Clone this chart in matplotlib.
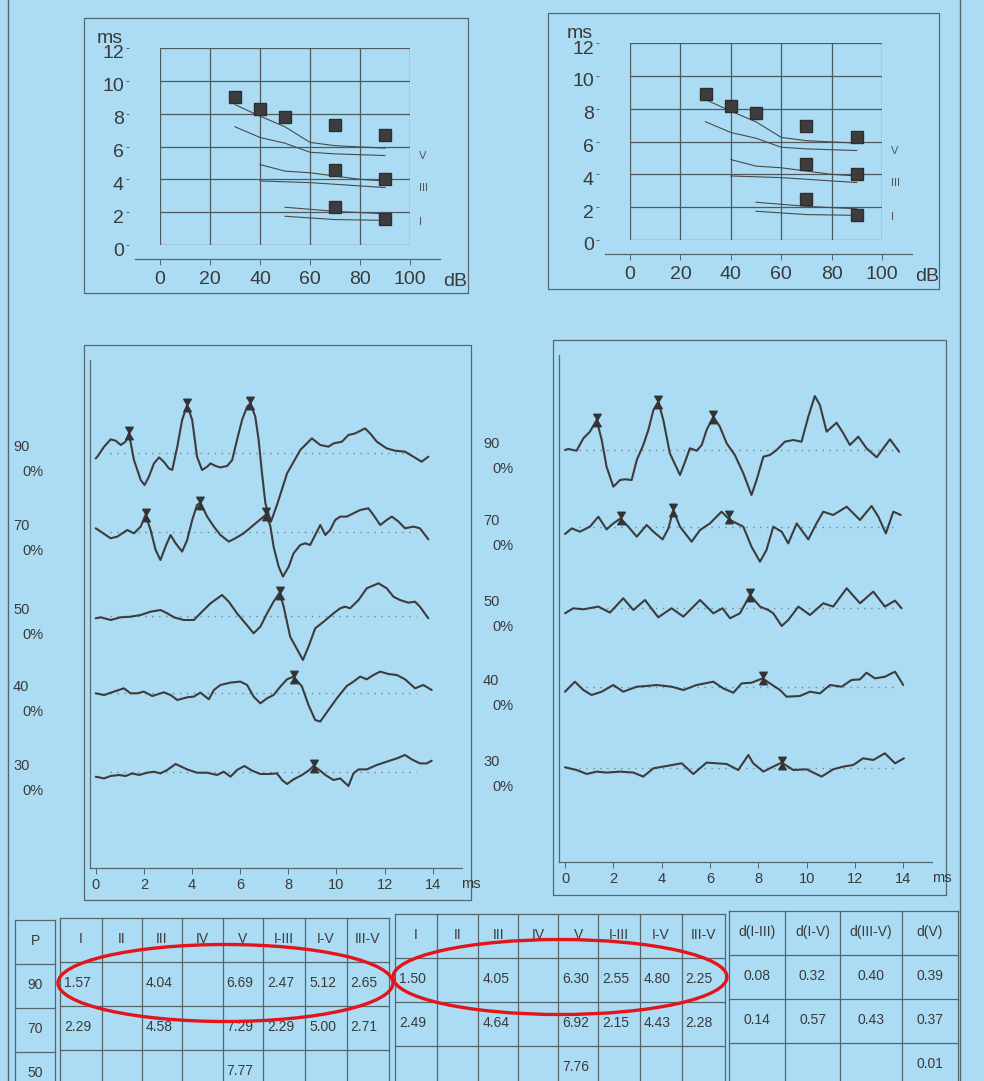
import matplotlib
matplotlib.use("Agg")
import matplotlib.pyplot as plt
from matplotlib.path import Path
from matplotlib.patches import Ellipse, Rectangle
from matplotlib.transforms import ScaledTranslation

plt.rcParams['font.family'] = ['Liberation Sans', 'DejaVu Sans']

W, H = 984, 1081
BG = '#abdcf4'
INK = '#3a3a3a'
LINE = '#56666d'
WAVE = '#3c3c3c'

# ---------------- latency / intensity charts ----------------
levels_db = [30, 40, 50, 70, 90]
left_V = [9.00, 8.27, 7.77, 7.29, 6.69]
right_V = [8.90, 8.17, 7.76, 6.92, 6.30]
db_70_90 = [70, 90]
left_III = [4.58, 4.04]
left_I = [2.29, 1.57]
right_III = [4.64, 4.05]
right_I = [2.49, 1.50]

# normative curves (upper / lower limits)
normV_db = [30, 40, 50, 60, 70, 90]
normV_hi = [8.55, 7.85, 7.20, 6.25, 6.05, 5.90]
normV_lo = [7.20, 6.55, 6.20, 5.65, 5.55, 5.45]
normIII_hi_db = [40, 50, 60, 80, 90]
normIII_hi = [4.90, 4.50, 4.40, 4.00, 3.90]
normIII_lo_db = [40, 60, 80, 90]
normIII_lo = [3.90, 3.80, 3.60, 3.50]
normI_db = [50, 70, 90]
normI_hi = [2.30, 2.05, 1.90]
normI_lo = [1.75, 1.55, 1.50]
wave_names = ['V', 'III', 'I']
wave_label_ms = [5.45, 3.46, 1.42]

# ---------------- ABR waveforms (time ms, amplitude) ----------------
stim_levels = ['90', '70', '50', '40', '30']

left_90_t = [0.0, 0.07, 0.35, 0.62, 0.83, 1.04, 1.24, 1.38, 1.59, 1.87, 2.03, 2.21, 2.42, 2.63, 2.83, 3.04, 3.18,
             3.39, 3.59, 3.80, 4.01, 4.21, 4.42, 4.63, 4.77, 4.98, 5.18, 5.46, 5.67, 5.87, 6.08, 6.29, 6.43, 6.63,
             6.77, 6.91, 7.05, 7.28, 7.53, 7.95, 8.50, 8.98, 9.33, 9.67, 9.88, 10.23, 10.50, 10.78, 11.19, 11.40,
             11.68, 12.09, 12.44, 12.85, 13.20, 13.54, 13.82]
left_90_a = [-0.57, -0.4, 0.6, 1.33, 1.2, 0.77, 1.1, 1.93, -0.73, -2.73, -3.23, -2.4, -1.07, -0.47, -0.9, -1.57,
             -1.73, 0.6, 3.27, 4.77, 3.27, -0.4, -1.73, -1.4, -1.07, -1.33, -1.47, -1.33, -0.73, 1.27, 3.27, 4.6,
             4.93, 3.6, 1.27, -2.07, -5.07, -6.9, -5.23, -2.07, 0.27, 1.43, 0.77, 0.6, 0.93, 1.1, 1.77, 1.93, 2.43,
             1.93, 1.1, 0.43, 0.2, 0.1, -0.4, -0.9, -0.4]
left_70_t = [0.0, 0.21, 0.62, 0.90, 1.31, 1.59, 1.87, 2.07, 2.28, 2.49, 2.69, 2.90, 3.11, 3.32, 3.59, 3.80, 4.01,
             4.21, 4.35, 4.63, 4.91, 5.18, 5.53, 5.80, 6.15, 6.56, 6.98, 7.09, 7.26, 7.39, 7.60, 7.78, 8.02, 8.22,
             8.50, 8.71, 8.91, 9.12, 9.33, 9.54, 9.74, 9.95, 10.16, 10.43, 10.71, 10.99, 11.33, 11.54, 11.82, 12.09,
             12.30, 12.58, 12.85, 13.20, 13.47, 13.82]
left_70_a = [0.4, 0.07, -0.6, -0.43, 0.23, -0.1, 0.57, 1.73, 0.23, -1.77, -2.77, -1.43, -0.27, -1.1, -1.93, -0.77,
             1.23, 2.73, 2.97, 1.57, 0.57, -0.27, -0.93, -0.6, -0.1, 0.73, 1.57, 1.83, 0.57, -1.43, -3.43, -4.43,
             -3.43, -2.1, -1.27, -1.1, -1.27, -0.27, 0.73, -0.27, 0.23, 1.23, 1.57, 1.57, 1.9, 2.23, 2.4, 1.73,
             0.73, 1.23, 1.57, 1.07, 0.4, 0.57, 0.4, -0.7]
left_50_t = [0.0, 0.21, 0.62, 1.04, 1.45, 1.87, 2.28, 2.69, 2.97, 3.25, 3.66, 4.08, 4.35, 4.77, 5.25, 5.53, 5.87,
             6.22, 6.56, 6.84, 7.12, 7.39, 7.64, 7.81, 8.08, 8.61, 8.84, 9.12, 9.47, 9.88, 10.16, 10.36, 10.57,
             10.92, 11.26, 11.75, 12.09, 12.37, 12.64, 12.99, 13.27, 13.47, 13.82]
left_50_a = [-0.23, -0.13, -0.4, -0.13, -0.07, 0.1, 0.43, 0.6, 0.27, -0.13, -0.4, -0.4, 0.27, 1.27, 2.1, 1.43, 0.27,
             -0.73, -1.73, -1.07, 0.27, 1.43, 2.33, 0.93, -2.07, -4.4, -3.07, -1.23, -0.57, 0.27, 0.77, 0.93, 0.77,
             1.6, 2.77, 3.27, 2.77, 1.93, 1.6, 1.33, 1.43, 0.93, -0.23]
left_40_t = [0.0, 0.35, 0.76, 1.17, 1.45, 1.73, 2.0, 2.35, 2.83, 3.11, 3.39, 3.80, 4.08, 4.35, 4.70, 4.91, 5.18,
             5.60, 6.01, 6.29, 6.56, 6.84, 7.12, 7.39, 7.67, 7.95, 8.22, 8.57, 8.84, 9.12, 9.33, 9.67, 10.02, 10.43,
             10.71, 10.99, 11.26, 11.54, 11.82, 12.16, 12.51, 12.85, 13.27, 13.61, 13.96]
left_40_a = [0.0, -0.17, 0.17, 0.5, 0.0, 0.0, 0.17, -0.27, 0.1, -0.17, -0.67, -0.4, -0.33, 0.07, -0.6, 0.33, 0.83,
             1.07, 1.17, 0.83, -0.33, -1.0, -0.5, -0.17, 0.67, 1.4, 1.67, 0.67, -1.17, -2.67, -2.83, -1.67, -0.5,
             0.73, 1.17, 1.67, 1.4, 1.83, 2.17, 1.93, 1.83, 1.4, 0.5, 0.83, 0.33]
left_30_t = [0.0, 0.35, 0.62, 0.97, 1.24, 1.52, 1.80, 2.14, 2.42, 2.69, 2.97, 3.32, 3.80, 4.21, 4.63, 5.04, 5.32,
             5.60, 5.87, 6.18, 6.50, 6.84, 7.19, 7.53, 7.74, 7.95, 8.22, 8.57, 8.84, 9.05, 9.33, 9.54, 9.88, 10.16,
             10.50, 10.71, 10.92, 11.26, 11.68, 12.09, 12.51, 12.85, 13.13, 13.47, 13.75, 13.96]
left_30_a = [-0.5, -0.67, -0.43, -0.33, -0.43, -0.17, -0.33, -0.1, 0.0, -0.17, 0.17, 0.77, 0.23, -0.1, -0.1, -0.33,
             0.0, -0.5, 0.17, 0.57, 0.1, -0.23, -0.23, -0.17, -0.83, -1.23, -0.77, -0.33, 0.1, 0.57, 0.1, -0.33,
             -0.83, -0.67, -1.43, -0.17, 0.23, 0.23, 0.67, 1.0, 1.33, 1.67, 1.23, 0.83, 0.83, 1.1]

right_90_t = [0.0, 0.14, 0.48, 0.76, 1.03, 1.31, 1.52, 1.72, 2.0, 2.28, 2.48, 2.76, 2.97, 3.24, 3.45, 3.66, 3.86,
              4.07, 4.34, 4.76, 4.97, 5.17, 5.45, 5.66, 5.86, 6.14, 6.41, 6.69, 7.03, 7.38, 7.72, 7.93, 8.21, 8.48,
              8.76, 9.10, 9.45, 9.79, 10.07, 10.34, 10.55, 10.83, 11.24, 11.52, 11.79, 12.14, 12.48, 12.90, 13.45,
              13.83]
right_90_a = [0.0, 0.1, -0.07, 1.17, 1.83, 3.0, 1.0, -1.67, -3.67, -3.0, -2.93, -3.0, -1.0, 0.5, 2.0, 4.0, 4.83,
              3.0, -0.33, -2.5, -1.17, 0.17, -0.07, 0.5, 2.0, 3.33, 2.33, 0.67, -0.5, -2.33, -4.5, -3.0, -0.67, -0.5,
              0.0, 0.83, 1.0, 0.83, 3.33, 5.4, 4.5, 1.83, 2.73, 1.67, 0.5, 1.33, 0.17, -0.73, 1.07, -0.17]
right_70_t = [0.0, 0.28, 0.62, 1.03, 1.38, 1.72, 2.0, 2.30, 2.62, 2.97, 3.38, 3.66, 4.04, 4.28, 4.48, 4.76, 5.24,
              5.59, 6.0, 6.48, 6.83, 7.38, 7.72, 8.07, 8.34, 8.62, 8.97, 9.24, 9.59, 10.07, 10.41, 10.69, 11.10,
              11.66, 12.21, 12.69, 12.97, 13.28, 13.59, 13.90]
right_70_a = [-0.73, -0.17, -0.5, 0.0, 1.0, -0.27, 0.33, 0.83, 0.0, -1.0, 0.17, -0.5, -1.27, -0.17, 1.67, 0.0, -1.5,
              -0.33, 0.33, 1.5, 0.67, 0.0, -2.0, -3.5, -2.33, 0.0, -0.5, -1.67, 0.33, -1.27, 0.33, 1.5, 1.17, 2.0,
              0.67, 2.07, 1.0, -0.67, 1.5, 1.17]
right_50_t = [0.0, 0.34, 0.76, 1.38, 1.86, 2.41, 2.83, 3.31, 3.86, 4.41, 4.90, 5.59, 6.14, 6.52, 6.83, 7.24, 7.66,
              8.07, 8.41, 8.62, 8.97, 9.24, 9.66, 10.14, 10.69, 11.10, 11.66, 12.21, 12.76, 13.24, 13.66, 13.93]
right_50_a = [-0.5, 0.0, -0.1, 0.17, -0.43, 1.0, -0.17, 0.83, -0.9, 0.0, -0.83, 0.83, -0.5, 0.0, -1.0, -0.5, 1.33,
              0.17, -0.17, -0.5, -1.77, -1.17, 0.17, -0.67, 0.5, 0.17, 2.0, 0.5, 1.67, 0.17, 0.77, 0.0]
right_40_t = [0.0, 0.41, 0.76, 1.10, 1.52, 2.0, 2.41, 2.97, 3.38, 3.79, 4.41, 4.90, 5.45, 6.14, 6.55, 6.97, 7.31,
              7.72, 8.18, 8.48, 8.90, 9.17, 9.72, 10.14, 10.55, 10.97, 11.45, 11.86, 12.21, 12.48, 12.83, 13.24,
              13.66, 14.0]
right_40_a = [-0.5, 0.5, -0.33, -0.83, -0.5, 0.17, -0.5, 0.0, 0.07, 0.17, 0.0, -0.33, 0.17, 0.5, -0.17, -0.6, 0.33,
              0.4, 0.83, 0.33, -0.33, -1.0, -0.93, -0.5, -0.67, 0.17, 0.0, 0.67, 0.73, 1.4, 0.83, 1.0, 1.5, 0.17]
right_30_t = [0.0, 0.48, 0.90, 1.31, 1.72, 2.28, 2.83, 3.24, 3.66, 4.21, 4.83, 5.31, 5.86, 6.69, 7.17, 7.59, 7.79,
              8.21, 8.62, 8.97, 9.45, 10.0, 10.62, 11.10, 11.52, 11.93, 12.34, 12.76, 13.24, 13.66, 14.03]
right_30_a = [0.1, -0.17, -0.57, -0.33, -0.43, -0.33, -0.43, -0.83, 0.0, 0.23, 0.5, -0.57, 0.57, 0.43, -0.17, 1.33,
              0.5, -0.33, 0.17, 0.57, -0.17, -0.1, -0.83, -0.1, 0.17, 0.33, 1.0, 0.83, 1.5, 0.5, 1.0]

# peak markers (latency ms, amplitude)
left_peaks_t = [[1.38, 3.80, 6.43], [2.07, 4.35, 7.09], [7.64], [8.22], [9.05]]
left_peaks_a = [[1.93, 4.77, 4.93], [1.73, 2.97, 1.83], [2.33], [1.67], [0.57]]
right_peaks_t = [[1.31, 3.86, 6.14], [2.30, 4.48, 6.80], [7.66], [8.18], [8.97]]
right_peaks_a = [[3.0, 4.83, 3.33], [0.83, 1.67, 0.93], [1.33], [0.83], [0.57]]

# ---------------- result table ----------------
table_levels = ['90', '70', '50']
peak_cols = ['I', 'II', 'III', 'IV', 'V', 'I-III', 'I-V', 'III-V']
left_table = [['1.57', '', '4.04', '', '6.69', '2.47', '5.12', '2.65'],
              ['2.29', '', '4.58', '', '7.29', '2.29', '5.00', '2.71'],
              ['', '', '', '', '7.77', '', '', '']]
right_table = [['1.50', '', '4.05', '', '6.30', '2.55', '4.80', '2.25'],
               ['2.49', '', '4.64', '', '6.92', '2.15', '4.43', '2.28'],
               ['', '', '', '', '7.76', '', '', '']]
diff_cols = ['d(I-III)', 'd(I-V)', 'd(III-V)', 'd(V)']
diff_table = [['0.08', '0.32', '0.40', '0.39'],
              ['0.14', '0.57', '0.43', '0.37'],
              ['', '', '', '0.01']]


def px_axes(fig, x0, y0, x1, y1):
    ax = fig.add_axes([x0 / W, 1 - y1 / H, (x1 - x0) / W, (y1 - y0) / H])
    ax.set_facecolor('none')
    return ax


fig = plt.figure(figsize=(W / 100, H / 100), dpi=100, facecolor=BG)
page = fig.add_axes([0, 0, 1, 1])
page.set_xlim(0, W)
page.set_ylim(H, 0)
page.axis('off')
page.set_facecolor('none')

# page borders and frames
page.plot([8, 8], [0, H], color=LINE, lw=1.0)
page.plot([960, 960], [0, H], color=LINE, lw=1.0)
for (x0, y0, x1, y1) in [(84, 18, 468, 293), (548, 13, 939, 289), (84, 345, 471, 900), (553, 340, 946, 895)]:
    page.add_patch(Rectangle((x0, y0), x1 - x0, y1 - y0, fill=False, ec=LINE, lw=0.9))


def latency_chart(box, V, III, I):
    ax = px_axes(fig, *box)
    ax.set_xlim(0, 100)
    ax.set_ylim(0, 12)
    ax.set_xticks(range(0, 101, 20))
    ax.set_yticks(range(0, 13, 2))
    ax.grid(True, color='#505a5e', lw=0.9)
    for gl in ax.get_xgridlines() + ax.get_ygridlines():
        gl.set_clip_on(False)
    for s in ax.spines.values():
        s.set_visible(False)
    ax.spines['left'].set_position(('outward', 22))
    ax.spines['bottom'].set_position(('outward', 10))
    ax.tick_params(axis='y', length=2.5, width=0.7, colors=LINE, labelcolor=INK, labelsize=14, pad=1.5)
    ax.tick_params(axis='x', length=4, width=0.7, colors=LINE, labelcolor=INK, labelsize=14, pad=5)
    shift = ScaledTranslation(0, -4 / 100, fig.dpi_scale_trans)
    for lab in ax.get_yticklabels():
        lab.set_transform(lab.get_transform() + shift)
    ax.plot([-10, 112], [-0.85, -0.85], color=LINE, lw=0.9, clip_on=False)

    kw = dict(color='#4a4a4a', lw=0.8)
    ax.plot(normV_db, normV_hi, **kw)
    ax.plot(normV_db, normV_lo, **kw)
    ax.plot(normIII_hi_db, normIII_hi, **kw)
    ax.plot(normIII_lo_db, normIII_lo, **kw)
    ax.plot(normI_db, normI_hi, **kw)
    ax.plot(normI_db, normI_lo, **kw)

    mk = dict(ls='none', marker='s', ms=8.5, mfc='#3d3d3d', mec='#2e2e2e', zorder=5)
    ax.plot(levels_db, V, **mk)
    ax.plot(db_70_90, III, **mk)
    ax.plot(db_70_90, I, **mk)

    for name, y in zip(wave_names, wave_label_ms):
        ax.text(103.5, y, name, fontsize=8, color='#555', va='center', ha='left')
    ax.text(-20, 12.6, 'ms', fontsize=14, color=INK, ha='center', va='center')
    ax.text(118, -2.25, 'dB', fontsize=14, color=INK, ha='center', va='center')
    return ax


latency_chart((160, 48, 410, 245), left_V, left_III, left_I)
latency_chart((630, 43, 882, 240), right_V, right_III, right_I)

# hourglass marker used for peak picks
hg = Path([(-0.6, 1), (0.6, 1), (0, 0), (-0.6, 1), (-0.6, -1), (0.6, -1), (0, 0), (-0.6, -1)],
          [Path.MOVETO, Path.LINETO, Path.LINETO, Path.CLOSEPOLY,
           Path.MOVETO, Path.LINETO, Path.LINETO, Path.CLOSEPOLY])


def wave_panel(x_zero, px_ms, top, bottom, bases, traces, peaks_t, peaks_a, lab_x, dots):
    x0 = x_zero - 0.25 * px_ms
    x1 = x_zero + 15.2 * px_ms
    ax = px_axes(fig, x0, top, x1, bottom)
    ax.set_xlim(-0.25, 15.2)
    ax.set_ylim(bottom, top)
    for s in ['top', 'right']:
        ax.spines[s].set_visible(False)
    for s in ['left', 'bottom']:
        ax.spines[s].set_color(LINE)
        ax.spines[s].set_linewidth(0.9)
    ax.set_yticks([])
    ax.set_xticks(range(0, 15, 2))
    ax.tick_params(axis='x', length=4, width=0.7, colors=LINE, labelcolor=INK, labelsize=10.5, pad=3)
    ax.text(15.6, bottom + 16, 'ms', fontsize=10.5, color=INK, ha='center', va='center')

    for base, (t, a), pt, pa, lev in zip(bases, traces, peaks_t, peaks_a, stim_levels):
        ax.plot(dots, [base, base], ls=(0, (1, 4)), color='#6f8790', lw=1.0)
        ax.plot(t, [base - 10 * v for v in a], color=WAVE, lw=1.5,
                solid_joinstyle='round', solid_capstyle='round')
        ax.plot(pt, [base - 10 * v for v in pa], ls='none', marker=hg, ms=9,
                mfc='#333', mec='#333', zorder=5)
        page.text(lab_x, base - 6, lev, fontsize=10.5, color=INK, ha='left', va='center')
        page.text(lab_x + 9, base + 19, '0%', fontsize=10.5, color=INK, ha='left', va='center')


wave_panel(95.7, 24.07, 360, 868, [452.7, 532.3, 616.0, 693.3, 771.7],
           [(left_90_t, left_90_a), (left_70_t, left_70_a), (left_50_t, left_50_a),
            (left_40_t, left_40_a), (left_30_t, left_30_a)],
           left_peaks_t, left_peaks_a, 13, [0.6, 13.3])
wave_panel(565.0, 24.16, 355, 862, [450.0, 526.7, 608.3, 686.7, 768.3],
           [(right_90_t, right_90_a), (right_70_t, right_70_a), (right_50_t, right_50_a),
            (right_40_t, right_40_a), (right_30_t, right_30_a)],
           right_peaks_t, right_peaks_a, 483, [0.6, 13.7])

# ---------------- table ----------------
RH = 44


def table_group(edges, top, header, rows, centered):
    for x in edges:
        page.plot([x, x], [top, H], color=LINE, lw=0.9)
    for k in range(len(rows) + 1):
        page.plot([edges[0], edges[-1]], [top + k * RH, top + k * RH], color=LINE, lw=0.9)
    for j, name in enumerate(header):
        xc = (edges[j] + edges[j + 1]) / 2
        page.text(xc, top + 21, name, fontsize=10, color=INK, ha='center', va='center')
    for i, row in enumerate(rows):
        for j, val in enumerate(row):
            y = top + RH * (i + 1) + 21
            if centered:
                page.text((edges[j] + edges[j + 1]) / 2, y, val, fontsize=10, color=INK, ha='center', va='center')
            else:
                page.text(edges[j] + 4, y, val, fontsize=10, color=INK, ha='left', va='center')


table_group([15, 55], 920, ['P'], [[v] for v in table_levels], True)
table_group([60, 101.7, 141.7, 181.7, 222.7, 263.3, 305, 346.7, 389.3], 918, peak_cols, left_table, False)
table_group([395, 436.7, 478.3, 518.3, 558.3, 598.3, 640, 681.7, 725], 914, peak_cols, right_table, False)
table_group([729.3, 785, 840, 901.7, 958.3], 911, diff_cols, diff_table, True)

# red highlight ellipses
page.add_patch(Ellipse((225.5, 983), 335, 77, fill=False, ec='#e3151b', lw=2.4, zorder=10))
page.add_patch(Ellipse((560, 977), 334, 75, fill=False, ec='#e3151b', lw=2.4, zorder=10))

fig.savefig('out.png', dpi=100, facecolor=BG)
